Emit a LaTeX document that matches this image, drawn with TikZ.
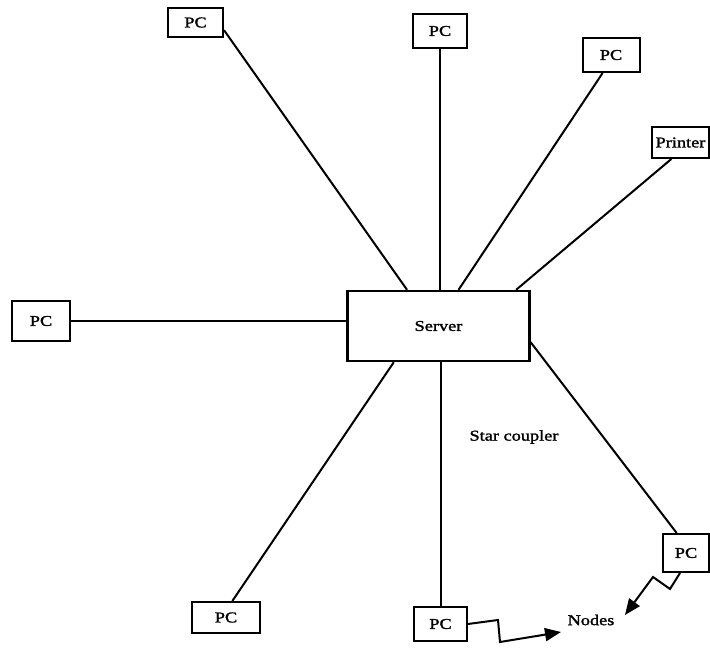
\documentclass[tikz,border=0pt]{standalone}
\usepackage{fontspec}
\setmainfont{Liberation Serif}[FakeStretch=1.22,FakeBold=1.6]
\usetikzlibrary{arrows.meta,calc}
\begin{document}
\begin{tikzpicture}[x=1pt,y=-1pt,
  box/.style={draw,line width=2pt,inner sep=0pt,font=\fontsize{15}{17}\selectfont},
  link/.style={line width=2pt},
  jag/.style={line width=2pt,-{Triangle[length=16pt,width=13pt]}},
  lbl/.style={inner sep=0pt,font=\fontsize{15}{17}\selectfont}]
\useasboundingbox (0,0) rectangle (710,648);
\node[box,line width=2.4pt,minimum width=182pt,minimum height=70pt] (server) at (438.5,326) {Server};
\node[box,minimum width=55pt,minimum height=29pt] (pc1) at (195.5,22.5) {PC};
\node[box,minimum width=54pt,minimum height=34pt] (pc2) at (440,31) {PC};
\node[box,minimum width=57pt,minimum height=34pt] (pc3) at (611,55) {PC};
\node[box,minimum width=57pt,minimum height=31pt] (printer) at (680.5,142.5) {Printer};
\node[box,minimum width=58pt,minimum height=40pt] (pcL) at (41,321) {PC};
\node[box,minimum width=68pt,minimum height=31pt] (pcBL) at (226,617.5) {PC};
\node[box,minimum width=53pt,minimum height=34pt] (pcB) at (440.5,624) {PC};
\node[box,minimum width=46pt,minimum height=38pt] (pcBR) at (686,553) {PC};
\node[lbl] (star) at (514,437) {Star coupler};
\node[lbl] (nodes) at (591,620) {Nodes};
\draw[link] (pc1.-15) -- (server.131);
\draw[link] (pc2.south) -- (pc2.south |- server.north);
\draw[link] (pc3.245) -- (server.61);
\draw[link] (printer.241) -- (server.25);
\draw[link] (pcL.east) -- (pcL.east -| server.west);
\draw[link] (pcBL.69) -- (server.219);
\draw[link] (pcB.north) -- (pcB.north |- server.south);
\draw[link] (pcBR.115) -- (server.-10.5);
\coordinate (tipA) at (561,632);
\coordinate (tipB) at (625,615);
\draw[jag] (pcB.east) -- (498,620) -- (500,642) -- (tipA);
\draw[jag] ($(pcBR.south)+(-6,0)$) -- (670,589) -- (653,577) -- (tipB);
\end{tikzpicture}
\end{document}
